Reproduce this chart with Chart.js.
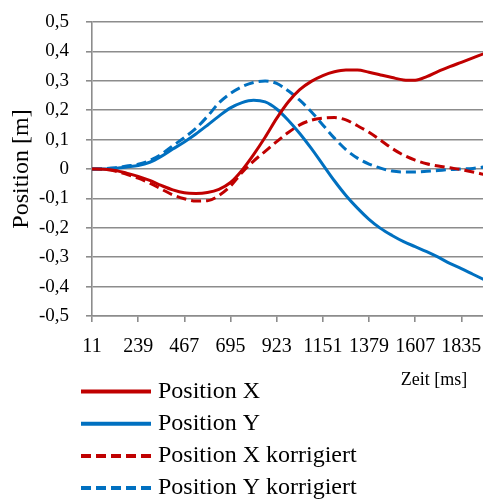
<!DOCTYPE html>
<html>
<head>
<meta charset="utf-8">
<script src="https://cdn.jsdelivr.net/npm/chart.js@4.4.0/dist/chart.umd.min.js"></script>
<style>
  html, body { margin: 0; padding: 0; background: #fff; overflow: hidden; }
  #wrap { width: 483px; height: 500px; position: relative; }
</style>
</head>
<body>
<div id="wrap"><canvas id="chart"></canvas></div>
<script>
// Sample times (ms)
const timeMs = [11, 68, 125, 182, 239, 296, 353, 410, 467, 524, 581, 638, 695, 752, 809, 866, 923, 980,
  1037, 1094, 1151, 1208, 1265, 1322, 1379, 1436, 1493, 1550, 1607, 1664, 1721, 1778, 1835, 1892, 1949];

// Positions (m)
const posX = [0, -0.001, -0.005, -0.014, -0.025, -0.039, -0.056, -0.071, -0.081, -0.083, -0.080, -0.069,
  -0.046, -0.004, 0.049, 0.108, 0.172, 0.228, 0.27, 0.298, 0.318, 0.331, 0.337, 0.337, 0.329, 0.32,
  0.311, 0.303, 0.302, 0.314, 0.332, 0.348, 0.363, 0.378, 0.393];
const posY = [0, 0, 0.002, 0.007, 0.012, 0.023, 0.043, 0.068, 0.092, 0.119, 0.149, 0.18, 0.208, 0.226,
  0.234, 0.228, 0.204, 0.166, 0.121, 0.07, 0.015, -0.04, -0.09, -0.133, -0.171, -0.202, -0.226,
  -0.247, -0.264, -0.281, -0.3, -0.321, -0.339, -0.358, -0.377];
const posXKorr = [0, -0.001, -0.007, -0.018, -0.031, -0.048, -0.068, -0.088, -0.101, -0.109, -0.108, -0.09,
  -0.058, -0.012, 0.027, 0.06, 0.093, 0.124, 0.15, 0.166, 0.173, 0.175, 0.167, 0.147, 0.125, 0.098,
  0.07, 0.047, 0.03, 0.018, 0.01, 0.004, -0.002, -0.01, -0.019];
const posYKorr = [0, 0.001, 0.004, 0.01, 0.016, 0.029, 0.05, 0.079, 0.107, 0.138, 0.179, 0.225, 0.257,
  0.28, 0.294, 0.299, 0.291, 0.266, 0.234, 0.195, 0.15, 0.105, 0.066, 0.037, 0.017, 0.003, -0.007,
  -0.01, -0.01, -0.008, -0.005, -0.002, 0, 0.002, 0.007];

// Axis labels
const xTickValues = [11, 239, 467, 695, 923, 1151, 1379, 1607, 1835];
const seriesNames = ['Position X', 'Position Y', 'Position X korrigiert', 'Position Y korrigiert'];
const yAxisTitle = 'Position [m]';
const xAxisTitle = 'Zeit [ms]';

const RED = '#C00000';
const BLUE = '#0070C0';
const GRID = '#8c8c8c';
const FONT = "'Liberation Serif', 'Times New Roman', serif";

function pts(ys) { return timeMs.map((t, i) => ({ x: t, y: ys[i] })); }

function series(label, ys, color, dashed) {
  return {
    label, data: pts(ys), borderColor: color, backgroundColor: color,
    borderWidth: 3, pointRadius: 0, fill: false,
    cubicInterpolationMode: 'monotone',
    borderDash: dashed ? [10, 5] : [], borderCapStyle: 'butt'
  };
}

// Legend list and x-axis caption under the plot
const extras = {
  id: 'extras',
  afterDraw(chart) {
    const ctx = chart.ctx;
    ctx.save();
    ctx.fillStyle = '#000';
    ctx.font = '18px ' + FONT;
    ctx.textAlign = 'center';
    ctx.textBaseline = 'middle';
    ctx.fillText(xAxisTitle, 434, 380);

    chart.data.datasets.forEach((ds, i) => {
      const y = 391.5 + i * 32.2;
      ctx.beginPath();
      ctx.strokeStyle = ds.borderColor;
      ctx.lineWidth = 4;
      ctx.lineCap = 'butt';
      ctx.setLineDash(ds.borderDash || []);
      ctx.moveTo(81, y);
      ctx.lineTo(151, y);
      ctx.stroke();
      ctx.setLineDash([]);
      ctx.fillStyle = '#000';
      ctx.font = '24px ' + FONT;
      ctx.textAlign = 'left';
      ctx.textBaseline = 'middle';
      ctx.fillText(ds.label, 158, y);
    });
    ctx.restore();
  }
};

new Chart(document.getElementById('chart'), {
  type: 'line',
  data: {
    datasets: [
      series(seriesNames[0], posX, RED, false),
      series(seriesNames[1], posY, BLUE, false),
      series(seriesNames[2], posXKorr, RED, true),
      series(seriesNames[3], posYKorr, BLUE, true)
    ]
  },
  options: {
    responsive: true,
    maintainAspectRatio: false,
    animation: false,
    layout: { padding: { top: 22, right: 0, left: 0, bottom: 100 } },
    plugins: { legend: { display: false }, tooltip: { enabled: false } },
    scales: {
      x: {
        type: 'linear',
        min: 11,
        max: 1942,
        afterFit(scale) {
          scale.height = 84;
          scale.paddingLeft = 0;
          scale.paddingRight = 0;
        },
        afterBuildTicks(scale) { scale.ticks = xTickValues.map(v => ({ value: v })); },
        grid: { drawOnChartArea: false, drawTicks: true, tickLength: 6, color: GRID, lineWidth: 1.6 },
        border: { display: true, color: GRID, width: 1.6 },
        ticks: {
          color: '#000', font: { family: FONT, size: 20 }, padding: 13,
          maxRotation: 0, autoSkip: false,
          callback: v => String(v)
        }
      },
      y: {
        min: -0.5,
        max: 0.5,
        afterFit(scale) {
          scale.width = 92;
          scale.paddingTop = 0;
          scale.paddingBottom = 0;
        },
        grid: { color: GRID, lineWidth: 1.6, drawTicks: true, tickLength: 6 },
        border: { display: true, color: GRID, width: 1.6 },
        ticks: {
          stepSize: 0.1, color: '#000', font: { family: FONT, size: 19 }, padding: 17,
          callback: v => {
            const r = Math.round(v * 10) / 10;
            return r === 0 ? '0' : r.toFixed(1).replace('.', ',');
          }
        },
        title: {
          display: true, text: yAxisTitle, color: '#000',
          font: { family: FONT, size: 24 }, padding: { top: 7, bottom: 0 }
        }
      }
    }
  },
  plugins: [extras]
});
</script>
</body>
</html>
